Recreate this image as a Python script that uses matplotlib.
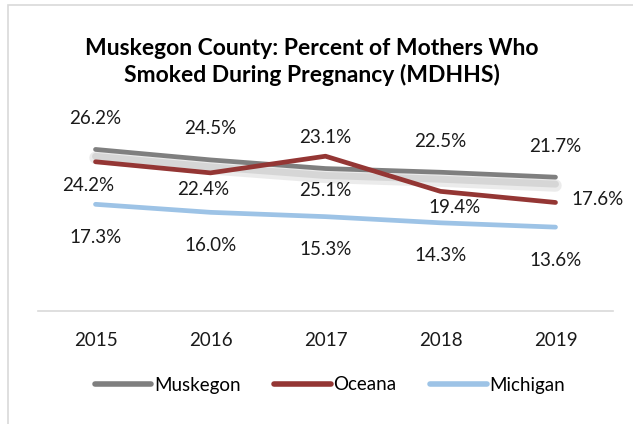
import matplotlib
matplotlib.use("Agg")
import matplotlib.pyplot as plt
import matplotlib.patheffects as pe
from matplotlib.lines import Line2D
from matplotlib.patches import Rectangle

# -----------------------------
# Data
# -----------------------------
years = ["2015", "2016", "2017", "2018", "2019"]
muskegon = [26.2, 24.5, 23.1, 22.5, 21.7]
oceana = [24.2, 22.4, 25.1, 19.4, 17.6]
michigan = [17.3, 16.0, 15.3, 14.3, 13.6]

series_names = ["Muskegon", "Oceana", "Michigan"]
title = "Muskegon County: Percent of Mothers Who\nSmoked During Pregnancy (MDHHS)"

# -----------------------------
# Style
# -----------------------------
plt.rcParams["font.family"] = ["Lato", "DejaVu Sans"]

c_musk = "#7f7f7f"
c_oce = "#943634"
c_mich = "#9dc3e6"
colors = [c_musk, c_oce, c_mich]

W, H = 633, 424
fig = plt.figure(figsize=(W / 100, H / 100), dpi=100)
fig.patches.append(Rectangle((8 / W, -0.1), 1.2, 1 - 5 / H + 0.1, transform=fig.transFigure,
                             fill=False, edgecolor="#d9d9d9", linewidth=1.2))

ax = fig.add_axes([38 / W, (H - 311) / H, (613 - 38) / W, (311 - 126) / H])
x = list(range(len(years)))

# soft shadow under the Muskegon line, like the Excel effect
shadow = [pe.SimpleLineShadow(offset=(0, -6), shadow_color="#c8c8c8", alpha=0.35, linewidth=9),
          pe.SimpleLineShadow(offset=(0, -5), shadow_color="#b0b0b0", alpha=0.35, linewidth=5),
          pe.Normal()]
ax.plot(x, muskegon, color=c_musk, lw=3.4, solid_capstyle="round", path_effects=shadow, zorder=3)
ax.plot(x, oceana, color=c_oce, lw=3.4, solid_capstyle="round", zorder=4)
ax.plot(x, michigan, color=c_mich, lw=3.4, solid_capstyle="round", zorder=3)

lab_kw = dict(textcoords="offset pixels", ha="center", va="center", fontsize=13.5, color="#1a1a1a")
for xi, v in zip(x, muskegon):
    ax.annotate(f"{v:.1f}%", (xi, v), xytext=(0, 31), **lab_kw)
for xi, v in zip(x, michigan):
    ax.annotate(f"{v:.1f}%", (xi, v), xytext=(0, -33), **lab_kw)
# Oceana labels were nudged by hand in the original
oce_offsets = [(-7, -24), (-7, -17), (0, -34), (14, -16), (42, 3)]
for xi, v, off in zip(x, oceana, oce_offsets):
    ax.annotate(f"{v:.1f}%", (xi, v), xytext=off, **lab_kw)

ax.set_xlim(-0.5, len(years) - 0.5)
ax.set_ylim(0, 30)
ax.set_xticks(x)
ax.set_xticklabels(years, fontsize=13.5, color="#1a1a1a")
ax.tick_params(axis="x", length=0, pad=15)
ax.set_yticks([])
for s in ["top", "right", "left"]:
    ax.spines[s].set_visible(False)
ax.spines["bottom"].set_color("#d9d9d9")
ax.spines["bottom"].set_linewidth(1.2)

fig.text(312 / W, 1 - 62 / H, title, ha="center", va="center", fontsize=16.5,
         fontweight="bold", linespacing=1.25)

handles = [Line2D([], [], color=c, lw=4, solid_capstyle="round") for c in colors]
fig.legend(handles, series_names, loc="center", bbox_to_anchor=(330 / W, 1 - 385 / H), ncol=3,
           frameon=False, fontsize=13.5, handlelength=3.0, handletextpad=0.15,
           columnspacing=1.8)

fig.savefig("out.png", dpi=100)
